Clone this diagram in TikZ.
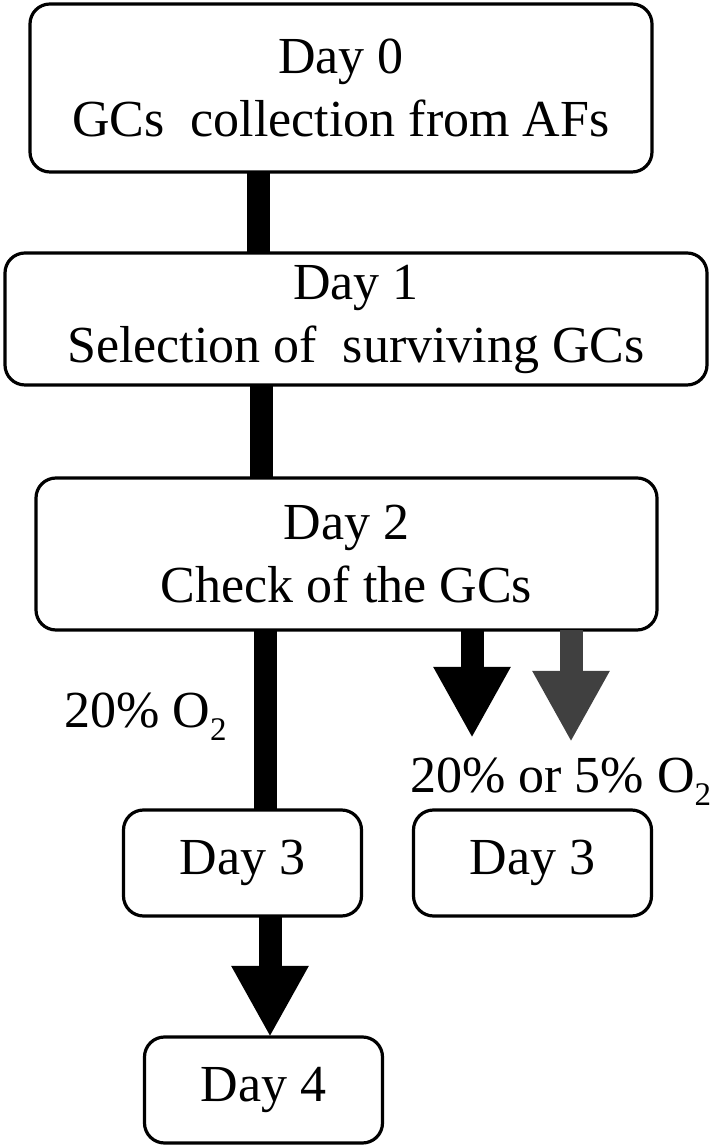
\documentclass[tikz,border=0pt]{standalone}
\usepackage{fontspec}
\setmainfont{Liberation Serif}
\usepackage{xcolor}
\usepackage{tikz}
\usetikzlibrary{arrows.meta,positioning}

\newcommand{\oxsub}{\raisebox{-13pt}{\fontsize{33}{33}\selectfont 2}}

\begin{document}
\begin{tikzpicture}[font=\fontsize{52}{63}\selectfont]
  % ------- styles -------
  \tikzstyle{box}=[draw, line width=3.2pt, rounded corners=20pt, align=center, inner sep=0pt, outer sep=0pt]
  \tikzstyle{small}=[box, minimum width=238pt, minimum height=106pt]
  \tikzstyle{stem}=[line width=23pt]
  \tikzstyle{bigarrow}=[stem, -{Triangle[width=72pt,length=71pt]}]
  \tikzstyle{greyarrow}=[bigarrow, draw=black!75]

  \useasboundingbox (0,0) rectangle (720pt,1148pt);

  % ------- nodes -------
  \node[box, minimum width=622pt, minimum height=168pt] (day0) at (341pt,1060pt) {Day 0\\GCs\ \ collection from AFs};
  \node[box, minimum width=702pt, minimum height=132pt, below=81pt of day0, xshift=15pt] (day1) {Day 1\\Selection of\ \ surviving GCs};
  \node[box, minimum width=621pt, minimum height=152pt, below=93pt of day1, xshift=-9.5pt] (day2) {Day 2\\Check of the GCs};
  \node[small, below=180pt of day2, xshift=-104pt] (day3a) {Day 3};
  \node[small, right=52pt of day3a] (day3b) {Day 3};
  \node[small, below=121pt of day3a, xshift=21pt] (day4) {Day 4};

  % labels
  \node[anchor=base west, inner sep=0pt] (lowO) at (64pt,420pt) {20\% O\oxsub};
  \node[anchor=base west, inner sep=0pt] (mixO) at (410pt,355pt) {20\% or 5\% O\oxsub};

  % free ends of the two short arrows
  \coordinate (tipA) at (472pt,410pt);
  \coordinate (tipB) at (571pt,406pt);

  % ------- arrows -------
  \draw[stem] ([xshift=-82.5pt]day0.south) -- ([xshift=-82.5pt]day0.south |- day1.north);
  \draw[stem] ([xshift=-95pt]day1.south) -- ([xshift=-95pt]day1.south |- day2.north);
  \draw[stem] ([xshift=22.5pt]day3a.north |- day2.south) -- ([xshift=22.5pt]day3a.north);
  \draw[bigarrow] ([xshift=6.5pt]day4.north |- day3a.south) -- ([xshift=6.5pt]day4.north);
  \draw[bigarrow] (tipA |- day2.south) -- (tipA);
  \draw[greyarrow] (tipB |- day2.south) -- (tipB);

\end{tikzpicture}
\end{document}
